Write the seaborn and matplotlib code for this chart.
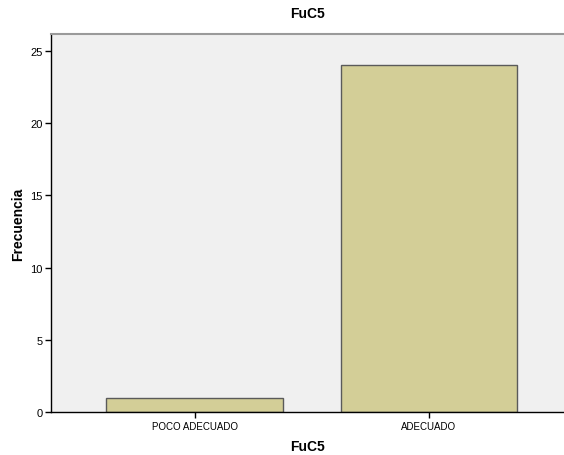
import pandas as pd
import numpy as np
import matplotlib.pyplot as plt
import seaborn as sns

# Data
categorias = ["POCO ADECUADO", "ADECUADO"]
frecuencia = [1, 24]
y_ticks = [0, 5, 10, 15, 20, 25]

df = pd.DataFrame({"FuC5": categorias, "Frecuencia": frecuencia})

sns.set_style("white")
plt.rcParams['font.family'] = ['Liberation Sans', 'DejaVu Sans']
plt.rcParams['text.color'] = "black"
plt.rcParams['axes.labelcolor'] = "black"

fig = plt.figure(figsize=(5.64, 4.56), dpi=100)
ax = fig.add_axes([0.0904, 0.0936, 0.9096, 0.8307])
ax.set_facecolor("#F0F0F0")

sns.barplot(data=df, x="FuC5", y="Frecuencia", ax=ax, color="#D3CE97",
            saturation=1, width=0.753, edgecolor="#5A5A5A", linewidth=1)

ax.set_xlim(-0.613, 1.576)
ax.set_ylim(0, 26.2)
ax.set_yticks(y_ticks)
ax.tick_params(axis="both", labelsize=7, length=4, width=1, colors="black",
               direction="out", pad=2)
ax.tick_params(axis="y", labelsize=8)
ax.tick_params(axis="x", bottom=True)
ax.tick_params(axis="y", left=True)

for s in ["left", "bottom"]:
    ax.spines[s].set_color("black")
    ax.spines[s].set_linewidth(1)
ax.spines["top"].set_color("#9A9A9A")
ax.spines["top"].set_linewidth(1.5)
ax.spines["right"].set_visible(False)

ax.set_title("FuC5", fontsize=10, fontweight="bold", pad=12, color="black")
ax.set_xlabel("FuC5", fontsize=10, fontweight="bold", labelpad=6)
ax.set_ylabel("Frecuencia", fontsize=10, fontweight="bold", labelpad=4)

fig.savefig("out.png", dpi=100)
